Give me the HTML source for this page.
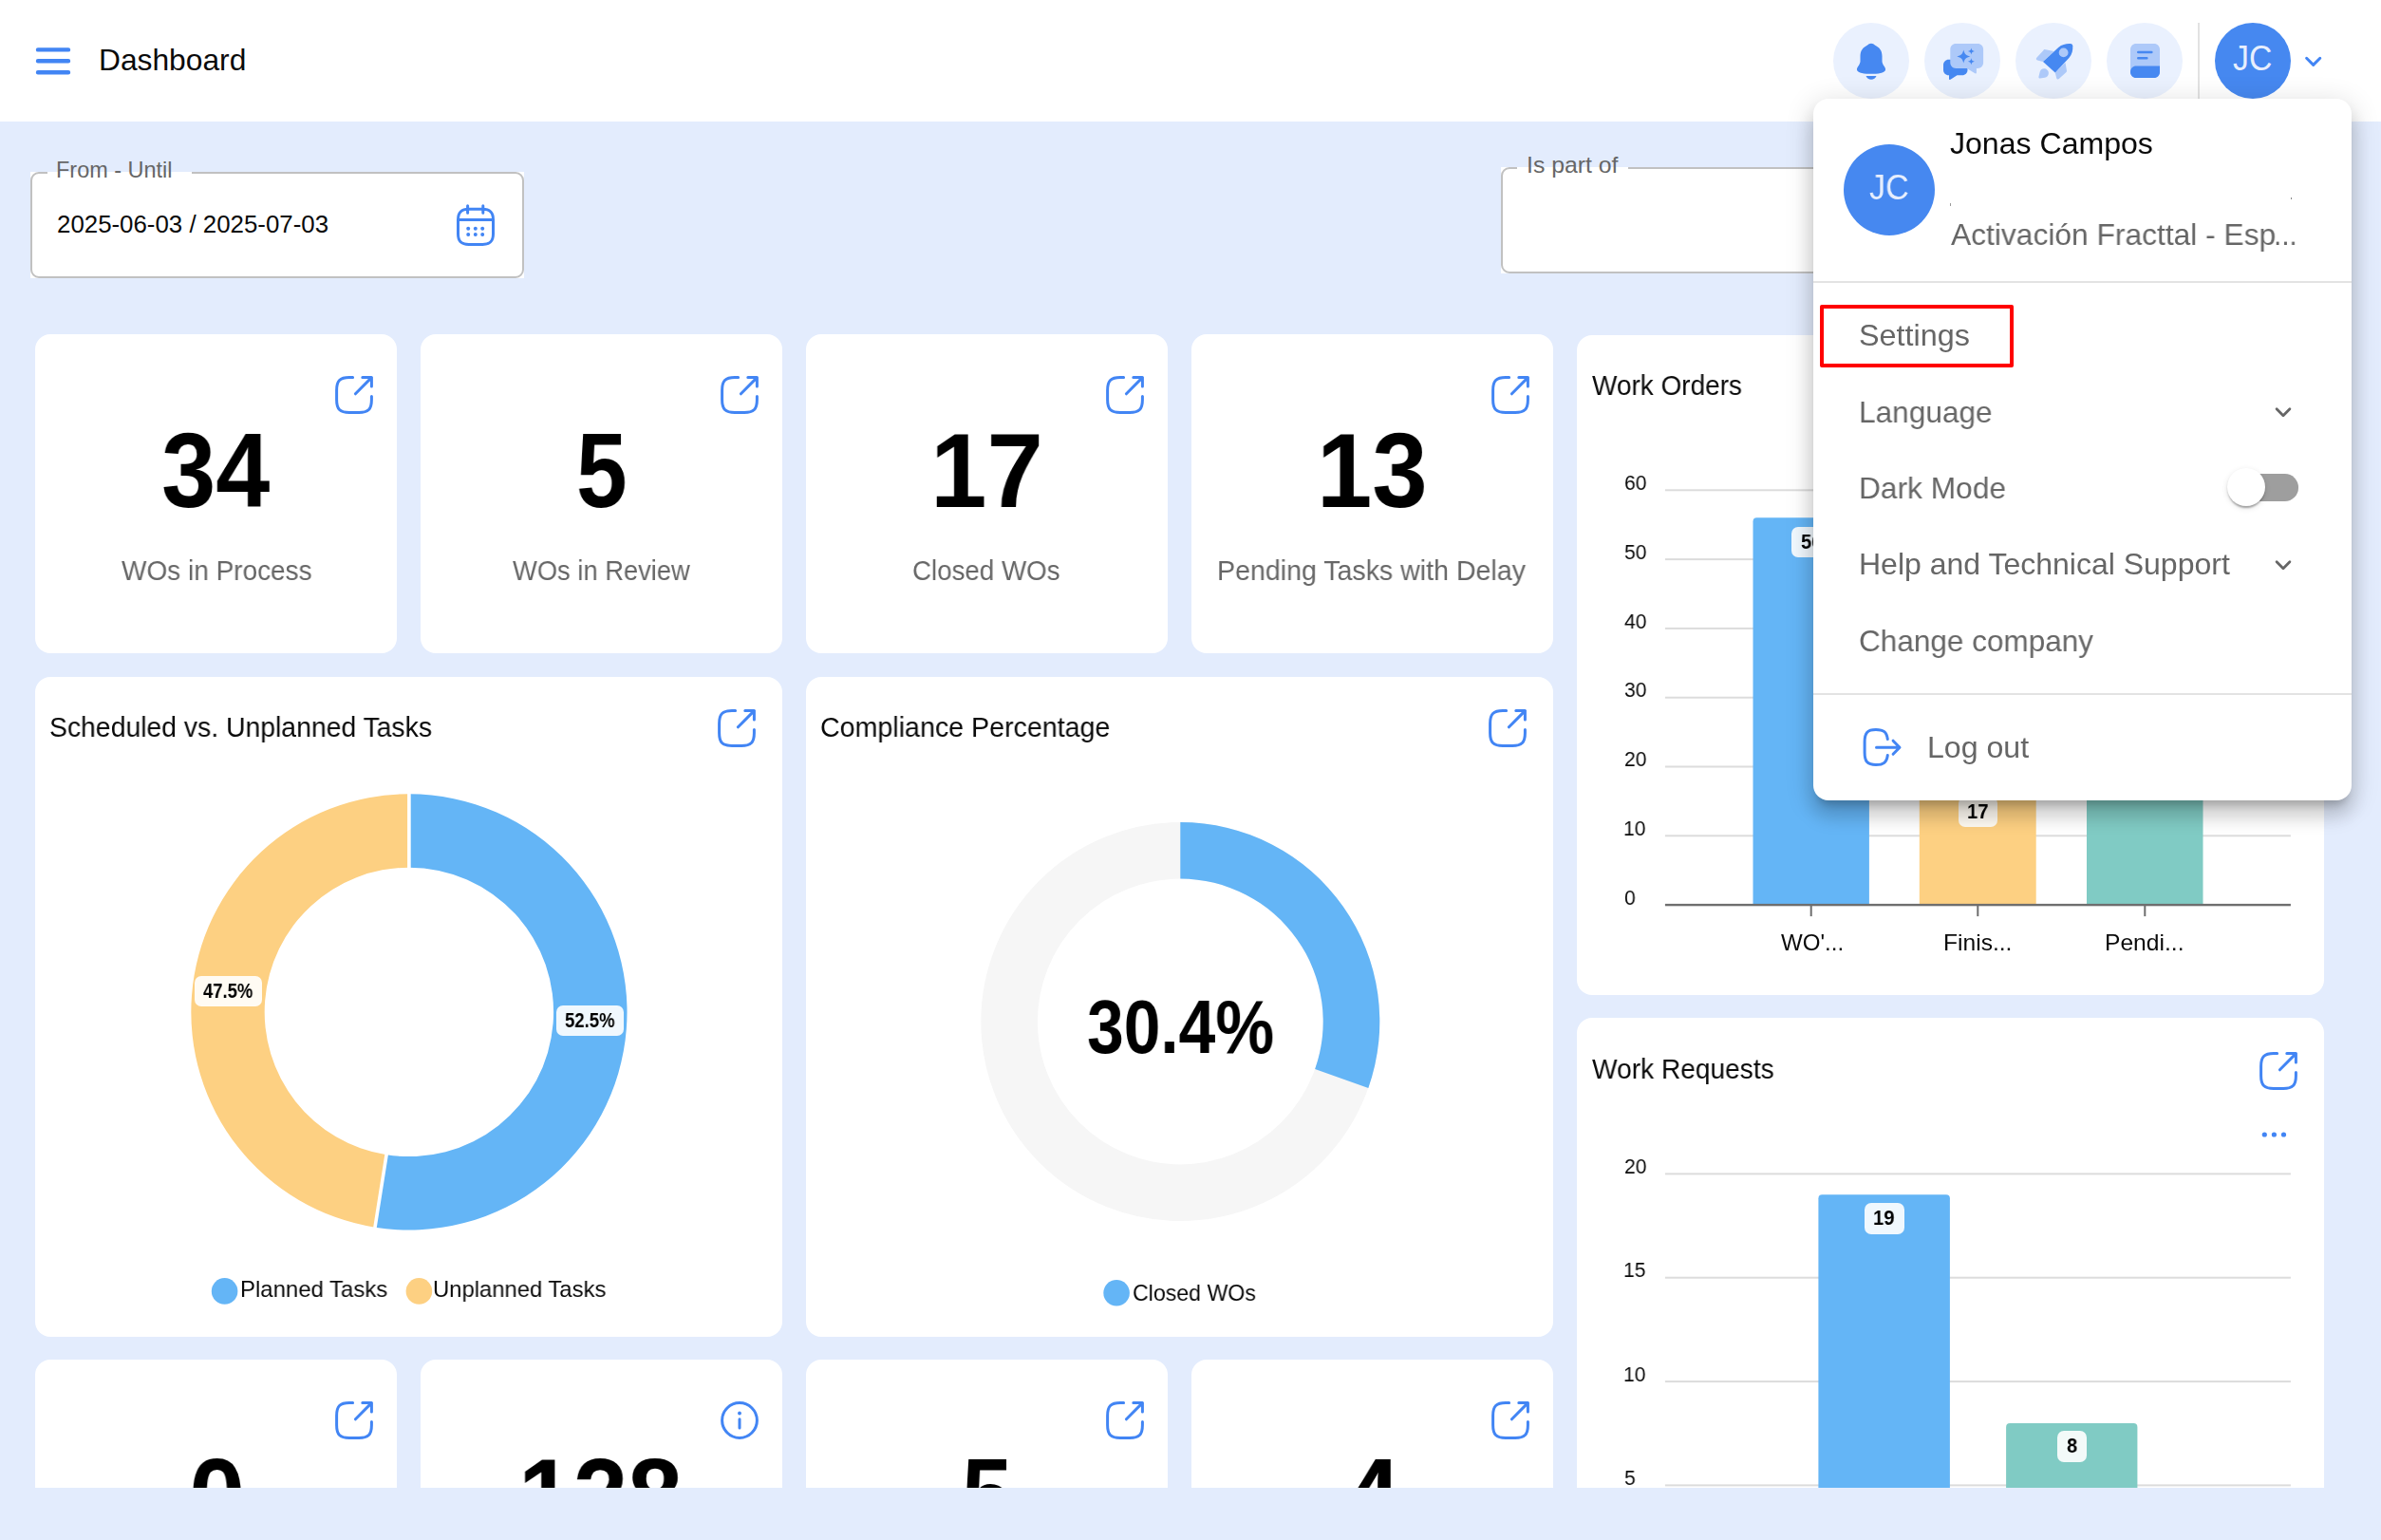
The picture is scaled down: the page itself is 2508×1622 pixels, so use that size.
<!DOCTYPE html>
<html lang="en"><head><meta charset="utf-8"><title>Dashboard</title>
<style>
*{box-sizing:border-box;margin:0;padding:0}
html,body{width:2508px;height:1622px;overflow:hidden;background:#e3ecfd}
body{font-family:"Liberation Sans",sans-serif;position:relative}
#app{position:absolute;left:0;top:0;width:2508px;height:1622px;overflow:hidden;background:#e3ecfd}
.t{position:absolute;white-space:nowrap;line-height:1;transform-origin:0 0;display:block}
.t.g{will-change:transform}
.ic{position:absolute;display:block;overflow:visible}
header{position:absolute;left:0;top:0;width:2508px;height:128px;background:#fff}
main{position:absolute;left:0;top:128px;width:2508px;height:1439px;overflow:hidden;background:#e3ecfd}
.card{background:#fff;border-radius:16px;overflow:hidden}
.hb{border-radius:50%;background:#eaf1fe}
.field{background:#fff}
.field>i{position:absolute;left:0;top:0;right:0;bottom:0;border:2px solid #c1c1c1;border-radius:9px}
.lbl{border-radius:7px;background:rgba(255,255,255,.9)}
.menu{background:#fff;border-radius:16px;box-shadow:0 10px 10px -6px rgba(0,0,0,.2),0 16px 20px 2px rgba(0,0,0,.14),0 6px 28px 4px rgba(0,0,0,.12)}
.hr{background:#e3e3e3}
</style></head><body><div id="app">

<header>
<svg class="ic" style="left:36px;top:46px" width="40" height="36" viewBox="0 0 40 36" fill="none" stroke="#4285f4" stroke-width="4.400" stroke-linecap="round"><path d="M4 6.400h32M4 18.300h32M4 30.200h32"/></svg>
<span class="t" style="left:103.58px;top:47px;font-size:32px;color:#0a0a0a;transform:scaleX(0.9919)">Dashboard</span>
<div class="hb" style="position:absolute;left:1931px;top:24px;width:80px;height:80px;"></div>
<div class="hb" style="position:absolute;left:2027px;top:24px;width:80px;height:80px;"></div>
<div class="hb" style="position:absolute;left:2123px;top:24px;width:80px;height:80px;"></div>
<div class="hb" style="position:absolute;left:2219px;top:24px;width:80px;height:80px;"></div>
<svg class="ic" style="left:1951px;top:44px" width="40" height="40" viewBox="0 0 40 40" ><path fill="#4688f1" d="M20 1.800c1.600 0 2.900.8 4.200 1.900 4.600 2.400 7.300 5.500 7.300 11.500v5.200c0 1.800.9 3.300 2.200 5.300 1.200 1.900 1.600 3 1.200 4.300-.5 1.600-2.400 2.400-5 2.900-3 .6-6.400.8-9.900.8s-6.900-.2-9.900-.8c-2.600-.5-4.500-1.300-5-2.900-.4-1.300 0-2.400 1.200-4.300 1.300-2 2.200-3.500 2.200-5.300v-5.200c0-6 2.700-9.100 7.300-11.500C17.100 2.600 18.400 1.800 20 1.800z"/><path fill="#4688f1" d="M14.500 36h11c-.9 2.300-3 3.800-5.500 3.800s-4.600-1.500-5.500-3.800z"/></svg>
<svg class="ic" style="left:2045px;top:44px" width="46" height="42" viewBox="0 0 46 42" ><path fill="#4688f1" d="M7.500 18.700h14.500c3 0 5.500 2.500 5.500 5.500v5.500c0 3-2.500 5.500-5.500 5.500h-5.500l-7 4.600c-.7.400-1.500-.1-1.500-.9v-3.700h-.5C4.500 35.200 2 32.700 2 29.700v-5.500c0-3 2.500-5.500 5.500-5.500z"/><path fill="#adc9f9" d="M15.200 1.900h23c3.300 0 5.900 2.600 5.900 5.900v14.300c0 3.300-2.600 5.900-5.900 5.900h-1.300v4.400c0 .8-.9 1.300-1.600.9l-8.600-5.300H15.200c-3.300 0-5.900-2.600-5.900-5.900V7.800c0-3.300 2.600-5.900 5.900-5.900z"/><path fill="#4688f1" d="M23.300 8.400c1 4.400 2.600 6 7 7-4.400 1-6 2.600-7 7-1-4.400-2.600-6-7-7 4.400-1 6-2.600 7-7zM31.400 6.400c.5 2.300 1.200 3 3.500 3.500-2.300.5-3 1.200-3.500 3.500-.5-2.300-1.200-3-3.500-3.500 2.300-.5 3-1.200 3.500-3.500zM31.400 17.300c.5 2.300 1.200 3 3.500 3.500-2.300.5-3 1.200-3.500 3.500-.5-2.300-1.200-3-3.500-3.500 2.300-.5 3-1.200 3.500-3.500z"/></svg>
<svg class="ic" style="left:2143px;top:44px" width="42" height="42" viewBox="0 0 42 42" ><path fill="#adc9f9" d="M10.700 8l9.600 1.900L9 21.100l-5.900-1.500c-1.300-.3-1.700-1.900-.8-2.800l7-7.600c.4-.7.900-1.300 1.400-1.200zM32.500 22.100l1.500 8.400c.1.600-.1 1.200-.5 1.600l-7.700 7c-.9.800-2.300.4-2.600-.8l-1.400-5.700z"/><path fill="#adc9f9" d="M10 28.300c2.600 0 4.900 2.100 4.900 4.700 0 2.500-1.700 4.300-4.100 4.700l-5 .8c-.9.100-1.600-.7-1.400-1.500l1.200-5c.5-2.200 2.200-3.700 4.400-3.700z"/><path fill="#4688f1" d="M9 21.100L25.200 5.900C29.200 2.600 33.600 1.700 38 2c1.300.1 2.200 1 2.300 2.300.3 4.400-.6 8.800-3.900 12.800L21.800 32.600z"/><circle cx="30.600" cy="11.400" r="4.900" fill="#adc9f9"/></svg>
<svg class="ic" style="left:2244px;top:45.9px" width="31" height="36" viewBox="0 0 31 36" ><path fill="#adc9f9" d="M6 0h19c3.300 0 6 2.700 6 6v24c0 3.300-2.700 6-6 6H6c-3.300 0-6-2.700-6-6V6c0-3.300 2.700-6 6-6z"/><path fill="#4688f1" d="M0 29.500c0-3.300 2.700-6 6-6h25V30c0 3.300-2.700 6-6 6H6c-3.300 0-6-2.700-6-6z"/><path stroke="#4688f1" stroke-width="2.600" stroke-linecap="round" fill="none" d="M8.300 9h14M8.300 15.300h9"/></svg>
<div style="position:absolute;left:2315px;top:24px;width:2px;height:80px;background:#e2e2e2"></div>
<div style="position:absolute;left:2333px;top:24px;width:80px;height:80px;border-radius:50%;background:#4688f0"></div>
<span class="t" style="left:2352.39px;top:44px;font-size:36.8px;color:#e8effd;transform:scaleX(0.9172)">JC</span>
<svg class="ic" style="left:2426px;top:56px" width="22" height="16" viewBox="0 0 22 16" fill="none" stroke="#4285f4" stroke-width="3" stroke-linecap="round" stroke-linejoin="round"><path d="M3.600 5.300l7.100 7.100 7.100-7.100"/></svg>
</header>
<main>
<div class="field" style="position:absolute;left:32px;top:52.5px;width:520px;height:112px;"><i></i></div>
<div style="position:absolute;left:49.7px;top:52.5px;width:152px;height:3.5px;background:#fff"></div>
<span class="t" style="left:59.46px;top:39px;font-size:24px;color:#666;transform:scaleX(0.9774)">From - Until</span>
<span class="t" style="left:59.61px;top:95px;font-size:26px;color:#0a0a0a;transform:scaleX(0.9943)">2025-06-03 / 2025-07-03</span>
<svg class="ic" style="left:480px;top:86px" width="42" height="46" viewBox="0 0 42 46" fill="none" stroke="#4285f4" stroke-width="3" stroke-linecap="round"><path d="M12.700 6.200h15.600c7.800 0 11.200 3.400 11.200 11.200v14.800c0 7.800-3.400 11.200-11.200 11.200H13.700C5.900 43.400 2.500 40 2.500 32.200V17.400C2.500 9.600 5.900 6.200 13.700 6.200z"/><path d="M12.600 2.800v7.400M28.800 2.800v7.400M3.500 17.400h35"/><g fill="#4285f4" stroke="none"><circle cx="13.200" cy="26.700" r="2"/><circle cx="20.800" cy="26.700" r="2"/><circle cx="28.200" cy="26.700" r="2"/><circle cx="13.200" cy="33" r="2"/><circle cx="20.800" cy="33" r="2"/><circle cx="28.200" cy="33" r="2"/></g></svg>
<div class="field" style="position:absolute;left:1581px;top:47.5px;width:520px;height:112px;"><i></i></div>
<div style="position:absolute;left:1597.8px;top:47.5px;width:117px;height:3.5px;background:#fff"></div>
<span class="t" style="left:1607.61px;top:34px;font-size:24px;color:#666;transform:scaleX(1.0329)">Is part of</span>
<div class="card" style="position:absolute;left:37.1px;top:224.1px;width:380.6px;height:335.6px;">
<span class="t g" style="left:133.19px;top:88.9px;font-size:110.5px;color:#000;transform:scaleX(0.9308);font-weight:700">34</span>
<span class="t g" style="left:90.41px;top:234.9px;font-size:28.8px;color:#666;transform:scaleX(0.9720)">WOs in Process</span>
<svg class="ic" style="left:315.9px;top:43.8px" width="40" height="40" viewBox="0 0 40 40" fill="none" stroke="#4285f4" stroke-width="3" stroke-linecap="round" stroke-linejoin="round"><path d="M18.6 1.6H15C5 1.6 1.6 5 1.6 15v10c0 10 3.400 13.400 13.400 13.400h10c10 0 13.400-3.400 13.400-13.400v-3.600"/><path d="M21.400 18.800L38.400 1.600M28.800 1.600h9.600v9.400"/></svg>
</div>
<div class="card" style="position:absolute;left:443.1px;top:224.1px;width:380.6px;height:335.6px;">
<span class="t g" style="left:164.31px;top:88.9px;font-size:110.5px;color:#000;transform:scaleX(0.8722);font-weight:700">5</span>
<span class="t g" style="left:96.81px;top:234.9px;font-size:28.8px;color:#666;transform:scaleX(0.9489)">WOs in Review</span>
<svg class="ic" style="left:315.9px;top:43.8px" width="40" height="40" viewBox="0 0 40 40" fill="none" stroke="#4285f4" stroke-width="3" stroke-linecap="round" stroke-linejoin="round"><path d="M18.6 1.6H15C5 1.6 1.6 5 1.6 15v10c0 10 3.400 13.400 13.400 13.400h10c10 0 13.400-3.400 13.400-13.400v-3.600"/><path d="M21.400 18.800L38.400 1.600M28.800 1.600h9.600v9.400"/></svg>
</div>
<div class="card" style="position:absolute;left:849.1px;top:224.1px;width:380.6px;height:335.6px;">
<span class="t g" style="left:130.92px;top:88.9px;font-size:110.5px;color:#000;transform:scaleX(0.9670);font-weight:700">17</span>
<span class="t g" style="left:112.31px;top:234.9px;font-size:28.8px;color:#666;transform:scaleX(0.9624)">Closed WOs</span>
<svg class="ic" style="left:315.9px;top:43.8px" width="40" height="40" viewBox="0 0 40 40" fill="none" stroke="#4285f4" stroke-width="3" stroke-linecap="round" stroke-linejoin="round"><path d="M18.6 1.6H15C5 1.6 1.6 5 1.6 15v10c0 10 3.400 13.400 13.400 13.400h10c10 0 13.400-3.400 13.400-13.400v-3.600"/><path d="M21.400 18.800L38.400 1.600M28.800 1.600h9.600v9.400"/></svg>
</div>
<div class="card" style="position:absolute;left:1255.1px;top:224.1px;width:380.6px;height:335.6px;">
<span class="t g" style="left:131.76px;top:88.9px;font-size:110.5px;color:#000;transform:scaleX(0.9474);font-weight:700">13</span>
<span class="t g" style="left:26.69px;top:234.9px;font-size:28.8px;color:#666;transform:scaleX(0.9918)">Pending Tasks with Delay</span>
<svg class="ic" style="left:315.9px;top:43.8px" width="40" height="40" viewBox="0 0 40 40" fill="none" stroke="#4285f4" stroke-width="3" stroke-linecap="round" stroke-linejoin="round"><path d="M18.6 1.6H15C5 1.6 1.6 5 1.6 15v10c0 10 3.400 13.400 13.400 13.400h10c10 0 13.400-3.400 13.400-13.400v-3.600"/><path d="M21.400 18.800L38.400 1.600M28.800 1.600h9.600v9.400"/></svg>
</div>
<div class="card" style="position:absolute;left:37.1px;top:1303.7px;width:380.6px;height:335.6px;">
<span class="t g" style="left:161.8px;top:89.3px;font-size:110.5px;color:#000;transform:scaleX(0.9619);font-weight:700">0</span>
<svg class="ic" style="left:315.9px;top:43.9px" width="40" height="40" viewBox="0 0 40 40" fill="none" stroke="#4285f4" stroke-width="3" stroke-linecap="round" stroke-linejoin="round"><path d="M18.6 1.6H15C5 1.6 1.6 5 1.6 15v10c0 10 3.400 13.400 13.400 13.400h10c10 0 13.400-3.400 13.400-13.400v-3.600"/><path d="M21.400 18.800L38.400 1.600M28.800 1.600h9.600v9.400"/></svg>
</div>
<div class="card" style="position:absolute;left:443.1px;top:1303.7px;width:380.6px;height:335.6px;">
<span class="t g" style="left:103.33px;top:89.3px;font-size:110.5px;color:#000;transform:scaleX(0.9366);font-weight:700">128</span>
<svg class="ic" style="left:315.9px;top:43.9px" width="40" height="40" viewBox="0 0 40 40" fill="none" stroke="#4285f4" stroke-width="3" stroke-linecap="round"><circle cx="20" cy="20" r="18.400"/><path d="M20 18.700v9.200"/><circle cx="20" cy="12.500" r="1.900" fill="#4285f4" stroke="none"/></svg>
</div>
<div class="card" style="position:absolute;left:849.1px;top:1303.7px;width:380.6px;height:335.6px;">
<span class="t g" style="left:164.31px;top:89.3px;font-size:110.5px;color:#000;transform:scaleX(0.8722);font-weight:700">5</span>
<svg class="ic" style="left:315.9px;top:43.9px" width="40" height="40" viewBox="0 0 40 40" fill="none" stroke="#4285f4" stroke-width="3" stroke-linecap="round" stroke-linejoin="round"><path d="M18.6 1.6H15C5 1.6 1.6 5 1.6 15v10c0 10 3.400 13.400 13.400 13.400h10c10 0 13.400-3.400 13.400-13.400v-3.600"/><path d="M21.400 18.800L38.400 1.600M28.800 1.600h9.600v9.400"/></svg>
</div>
<div class="card" style="position:absolute;left:1255.1px;top:1303.7px;width:380.6px;height:335.6px;">
<span class="t g" style="left:161.79px;top:89.3px;font-size:110.5px;color:#000;transform:scaleX(0.9410);font-weight:700">4</span>
<svg class="ic" style="left:315.9px;top:43.9px" width="40" height="40" viewBox="0 0 40 40" fill="none" stroke="#4285f4" stroke-width="3" stroke-linecap="round" stroke-linejoin="round"><path d="M18.6 1.6H15C5 1.6 1.6 5 1.6 15v10c0 10 3.400 13.400 13.400 13.400h10c10 0 13.400-3.400 13.400-13.400v-3.600"/><path d="M21.400 18.800L38.400 1.600M28.800 1.600h9.600v9.400"/></svg>
</div>
<div class="card" style="position:absolute;left:37.1px;top:584.5px;width:786.6px;height:695px;">
<span class="t g" style="left:14.52px;top:39.5px;font-size:28.8px;color:#0a0a0a;transform:scaleX(0.9846)">Scheduled vs. Unplanned Tasks</span>
<svg class="ic" style="left:719.4px;top:34.3px" width="40" height="40" viewBox="0 0 40 40" fill="none" stroke="#4285f4" stroke-width="3" stroke-linecap="round" stroke-linejoin="round"><path d="M18.6 1.6H15C5 1.6 1.6 5 1.6 15v10c0 10 3.400 13.400 13.400 13.400h10c10 0 13.400-3.400 13.400-13.400v-3.600"/><path d="M21.400 18.800L38.400 1.600M28.800 1.600h9.600v9.400"/></svg>
<svg class="ic" style="left:0px;top:0px" width="787" height="695" viewBox="0 0 787 695" ><path d="M393.90 123.30A229.6 229.6 0 1 1 357.98 579.67L370.09 503.23A152.2 152.2 0 1 0 393.90 200.70Z" fill="#64b5f6"/><path d="M357.98 579.67A229.6 229.6 0 0 1 393.90 123.30L393.90 200.70A152.2 152.2 0 0 0 370.09 503.23Z" fill="#fdd082"/><path d="M393.90 201.70L393.90 122.30M370.25 502.24L357.83 580.66" stroke="#fff" stroke-width="3.600"/><circle cx="199.6" cy="646.9000000000001" r="13.800" fill="#64b5f6"/><circle cx="404.4" cy="646.9000000000001" r="13.800" fill="#fdd082"/></svg>
<div class="lbl" style="position:absolute;left:167.9px;top:315px;width:71px;height:32.5px;"></div>
<span class="t g" style="left:177.32px;top:320.5px;font-size:21.2px;color:#000;transform:scaleX(0.8697);font-weight:700">47.5%</span>
<div class="lbl" style="position:absolute;left:548.9px;top:346px;width:71px;height:32.5px;"></div>
<span class="t g" style="left:558.34px;top:351.5px;font-size:21.2px;color:#000;transform:scaleX(0.8744);font-weight:700">52.5%</span>
<span class="t g" style="left:215.43px;top:633.5px;font-size:24px;color:#0a0a0a;transform:scaleX(0.9966)">Planned Tasks</span>
<span class="t g" style="left:419.25px;top:633.5px;font-size:24px;color:#0a0a0a;transform:scaleX(0.9925)">Unplanned Tasks</span>
</div>
<div class="card" style="position:absolute;left:849.1px;top:584.5px;width:786.6px;height:695px;">
<span class="t g" style="left:14.87px;top:39.5px;font-size:28.8px;color:#0a0a0a;transform:scaleX(0.9938)">Compliance Percentage</span>
<svg class="ic" style="left:719.4px;top:34.3px" width="40" height="40" viewBox="0 0 40 40" fill="none" stroke="#4285f4" stroke-width="3" stroke-linecap="round" stroke-linejoin="round"><path d="M18.6 1.6H15C5 1.6 1.6 5 1.6 15v10c0 10 3.400 13.400 13.400 13.400h10c10 0 13.400-3.400 13.400-13.400v-3.600"/><path d="M21.400 18.800L38.400 1.600M28.800 1.600h9.600v9.400"/></svg>
<svg class="ic" style="left:0px;top:0px" width="787" height="695" viewBox="0 0 787 695" ><circle cx="394.3" cy="363.0" r="180.200" fill="none" stroke="#f6f6f6" stroke-width="59.600"/><path d="M394.30 153.00A210 210 0 0 1 592.33 432.89L536.13 413.06A150.4 150.4 0 0 0 394.30 212.60Z" fill="#64b5f6"/><circle cx="327.1" cy="648.7" r="13.800" fill="#64b5f6"/></svg>
<span class="t g" style="left:295.54px;top:329.5px;font-size:79.4px;color:#000;transform:scaleX(0.8758);font-weight:700">30.4%</span>
<span class="t g" style="left:343.84px;top:637.5px;font-size:24px;color:#0a0a0a;transform:scaleX(0.9641)">Closed WOs</span>
</div>
<div class="card" style="position:absolute;left:1661.1px;top:224.5px;width:786.6px;height:695px;">
<span class="t g" style="left:15.96px;top:39.5px;font-size:28.8px;color:#0a0a0a;transform:scaleX(0.9706)">Work Orders</span>
<svg class="ic" style="left:0px;top:0px" width="787" height="700" viewBox="0 0 787 700" ><rect x="92.90000000000009" y="162.3" width="659" height="2" fill="#dcdcdc"/><rect x="92.90000000000009" y="235.1" width="659" height="2" fill="#dcdcdc"/><rect x="92.90000000000009" y="307.9" width="659" height="2" fill="#dcdcdc"/><rect x="92.90000000000009" y="380.7" width="659" height="2" fill="#dcdcdc"/><rect x="92.90000000000009" y="453.5" width="659" height="2" fill="#dcdcdc"/><rect x="92.90000000000009" y="526.3" width="659" height="2" fill="#dcdcdc"/><path d="M185.5 599.8V196.2q0-4 4-4H303.9q4 0 4 4V599.8z" fill="#64b5f6"/><path d="M360.8 599.8V480.0q0-4 4-4H479.7q4 0 4 4V599.8z" fill="#fdd082"/><path d="M537.0 599.8V351.5q0-4 4-4H655.5q4 0 4 4V599.8z" fill="#80cbc4"/><rect x="92.90000000000009" y="598.9" width="659" height="2.400" fill="#6e6e6e"/><rect x="245.7" y="600.1" width="2" height="12" fill="#6e6e6e"/><rect x="421.3" y="600.1" width="2" height="12" fill="#6e6e6e"/><rect x="597.3" y="600.1" width="2" height="12" fill="#6e6e6e"/></svg>
<span class="t g" style="left:49.64px;top:145.5px;font-size:22px;color:#0a0a0a;transform:scaleX(0.9600)">60</span>
<span class="t g" style="left:49.86px;top:218.5px;font-size:22px;color:#0a0a0a;transform:scaleX(0.9600)">50</span>
<span class="t g" style="left:50.22px;top:291.5px;font-size:22px;color:#0a0a0a;transform:scaleX(0.9600)">40</span>
<span class="t g" style="left:49.91px;top:363.5px;font-size:22px;color:#0a0a0a;transform:scaleX(0.9600)">30</span>
<span class="t g" style="left:49.64px;top:436.5px;font-size:22px;color:#0a0a0a;transform:scaleX(0.9600)">20</span>
<span class="t g" style="left:49.12px;top:509.5px;font-size:22px;color:#0a0a0a;transform:scaleX(0.9600)">10</span>
<span class="t g" style="left:49.91px;top:582.5px;font-size:22px;color:#0a0a0a;transform:scaleX(0.9600)">0</span>
<span class="t g" style="left:214.58px;top:628.5px;font-size:24px;color:#0a0a0a;transform:scaleX(1.0032)">WO'...</span>
<span class="t g" style="left:386.17px;top:628.5px;font-size:24px;color:#0a0a0a;transform:scaleX(1.0248)">Finis...</span>
<span class="t g" style="left:556.27px;top:628.5px;font-size:24px;color:#0a0a0a;transform:scaleX(1.0256)">Pendi...</span>
<div class="lbl" style="position:absolute;left:226.4px;top:202.5px;width:41px;height:32px;"></div>
<span class="t g" style="left:235.79px;top:208.5px;font-size:21.4px;color:#000;transform:scaleX(0.9400);font-weight:700">56</span>
<div class="lbl" style="position:absolute;left:401.9px;top:486px;width:41px;height:32px;"></div>
<span class="t g" style="left:411.04px;top:492.5px;font-size:21.4px;color:#000;transform:scaleX(0.9400);font-weight:700">17</span>
</div>
<div class="card" style="position:absolute;left:1661.1px;top:943.5px;width:786.6px;height:695px;">
<span class="t g" style="left:15.86px;top:40.5px;font-size:28.8px;color:#0a0a0a;transform:scaleX(0.9761)">Work Requests</span>
<svg class="ic" style="left:719.1px;top:36.1px" width="40" height="40" viewBox="0 0 40 40" fill="none" stroke="#4285f4" stroke-width="3" stroke-linecap="round" stroke-linejoin="round"><path d="M18.6 1.6H15C5 1.6 1.6 5 1.6 15v10c0 10 3.400 13.400 13.400 13.400h10c10 0 13.400-3.400 13.400-13.400v-3.600"/><path d="M21.400 18.800L38.400 1.600M28.800 1.600h9.600v9.400"/></svg>
<svg class="ic" style="left:718.9px;top:118.5px" width="32" height="10" viewBox="0 0 32 10" fill="#4285f4"><circle cx="5.300" cy="5" r="2.600"/><circle cx="15.400" cy="5" r="2.600"/><circle cx="25.500" cy="5" r="2.600"/></svg>
<svg class="ic" style="left:0px;top:0px" width="787" height="700" viewBox="0 0 787 700" ><rect x="92.90000000000009" y="163.4" width="659" height="2" fill="#dcdcdc"/><rect x="92.90000000000009" y="272.7" width="659" height="2" fill="#dcdcdc"/><rect x="92.90000000000009" y="382.1" width="659" height="2" fill="#dcdcdc"/><rect x="92.90000000000009" y="491.4" width="659" height="2" fill="#dcdcdc"/><rect x="92.90000000000009" y="600.7" width="659" height="2" fill="#dcdcdc"/><path d="M254.4 628.5V190.3q0-4 4-4H388.9q4 0 4 4V628.5z" fill="#64b5f6"/><path d="M452.1 628.5V431.0q0-4 4-4H586.4q4 0 4 4V628.5z" fill="#80cbc4"/></svg>
<span class="t g" style="left:49.64px;top:146.5px;font-size:22px;color:#0a0a0a;transform:scaleX(0.9600)">20</span>
<span class="t g" style="left:49.12px;top:255.5px;font-size:22px;color:#0a0a0a;transform:scaleX(0.9600)">15</span>
<span class="t g" style="left:49.12px;top:365.5px;font-size:22px;color:#0a0a0a;transform:scaleX(0.9600)">10</span>
<span class="t g" style="left:49.86px;top:474.5px;font-size:22px;color:#0a0a0a;transform:scaleX(0.9600)">5</span>
<div class="lbl" style="position:absolute;left:302.9px;top:195px;width:41.6px;height:33px;"></div>
<span class="t g" style="left:312.26px;top:201.5px;font-size:21.4px;color:#000;transform:scaleX(0.9400);font-weight:700">19</span>
<div class="lbl" style="position:absolute;left:506px;top:435.3px;width:30.9px;height:33.3px;"></div>
<span class="t g" style="left:515.82px;top:441.5px;font-size:21.4px;color:#000;transform:scaleX(0.9400);font-weight:700">8</span>
</div>
</main>
<div class="menu" style="position:absolute;left:1910px;top:104px;width:567px;height:739px;">
<div style="position:absolute;left:32px;top:48px;width:96px;height:96px;border-radius:50%;background:#4688f0"></div>
<span class="t g" style="left:59.39px;top:76px;font-size:36.8px;color:#e8effd;transform:scaleX(0.9265)">JC</span>
<span class="t g" style="left:144.42px;top:31px;font-size:32px;color:#0a0a0a;transform:scaleX(1.0022)">Jonas Campos</span>
<span class="t g" style="left:144.82px;top:127px;font-size:32px;color:#666;transform:scaleX(0.9919)">Activación Fracttal - Esp</span>
<span class="t g" style="left:484.84px;top:127px;font-size:32px;color:#666;transform:scaleX(0.9244)">...</span>
<div style="position:absolute;left:144.2px;top:110px;width:1px;height:2.6px;background:#9a9a9a"></div>
<div style="position:absolute;left:502.5px;top:103.6px;width:1.2px;height:2.6px;background:#8a8a8a"></div>
<div class="hr" style="position:absolute;left:0px;top:191.5px;width:567px;height:2px;"></div>
<div style="position:absolute;left:7px;top:216.8px;width:203.8px;height:66.3px;border:4.100px solid #ff0000;border-radius:2px"></div>
<span class="t g" style="left:47.85px;top:233px;font-size:32px;color:#666;transform:scaleX(1.0103)">Settings</span>
<span class="t g" style="left:48.09px;top:314px;font-size:32px;color:#666;transform:scaleX(0.9876)">Language</span>
<span class="t g" style="left:48.09px;top:394px;font-size:32px;color:#666;transform:scaleX(0.9903)">Dark Mode</span>
<span class="t g" style="left:48.06px;top:474px;font-size:32px;color:#666;transform:scaleX(0.9992)">Help and Technical Support</span>
<span class="t g" style="left:48.42px;top:555px;font-size:32px;color:#666;transform:scaleX(0.9847)">Change company</span>
<svg class="ic" style="left:483.5px;top:322.2px" width="22" height="16" viewBox="0 0 22 16" fill="none" stroke="#666" stroke-width="2.800" stroke-linecap="round" stroke-linejoin="round"><path d="M4.100 4.800l6.900 6.900 6.900-6.900"/></svg>
<svg class="ic" style="left:483.5px;top:482.5px" width="22" height="16" viewBox="0 0 22 16" fill="none" stroke="#666" stroke-width="2.800" stroke-linecap="round" stroke-linejoin="round"><path d="M4.100 4.800l6.900 6.900 6.900-6.900"/></svg>
<div style="position:absolute;left:443px;top:395.2px;width:68px;height:28.6px;border-radius:14.3px;background:#9e9e9e"></div>
<div style="position:absolute;left:435.5px;top:388.6px;width:40px;height:40px;border-radius:50%;background:#fff;box-shadow:0 4px 2px -2px rgba(0,0,0,.2),0 2px 2px 0 rgba(0,0,0,.14),0 2px 6px 0 rgba(0,0,0,.12)"></div>
<div class="hr" style="position:absolute;left:0px;top:625.5px;width:567px;height:2px;"></div>
<svg class="ic" style="left:51px;top:661px" width="44" height="44" viewBox="0 0 44 44" fill="none" stroke="#4285f4" stroke-width="3" stroke-linecap="round" stroke-linejoin="round"><path d="M27.300 13.500C26.300 6 23 3.500 15 3.500 5.800 3.500 3.100 7 3.100 16.500v11c0 9.500 2.700 13 11.900 13 8 0 11.300-2.500 12.300-10"/><path d="M15.500 22.300h24M33.100 15.200l6.900 7.100-6.900 7"/></svg>
<span class="t g" style="left:119.65px;top:667px;font-size:32px;color:#666;transform:scaleX(1.0035)">Log out</span>
</div>
</div></body></html>
